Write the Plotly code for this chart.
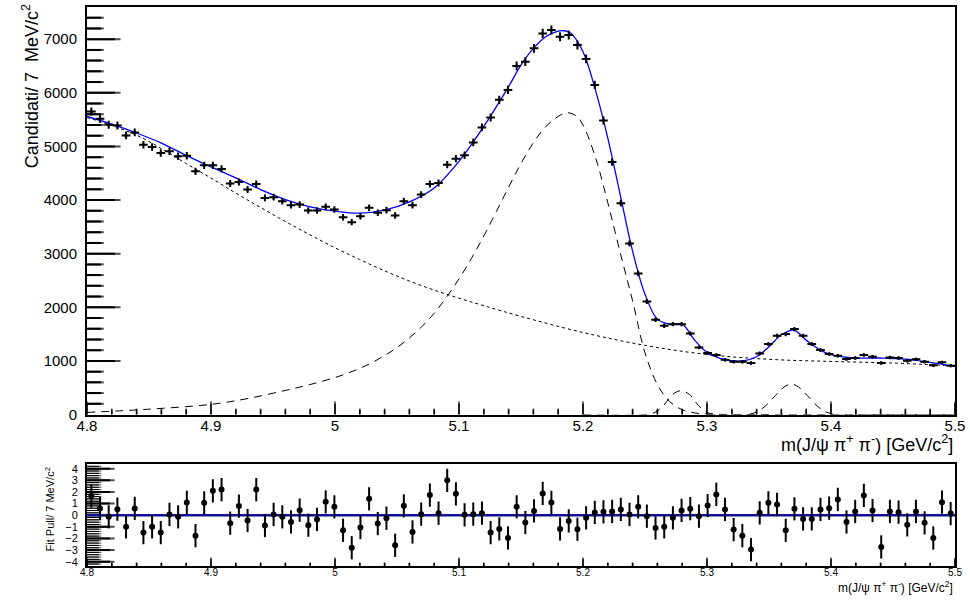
import numpy as np
import plotly.graph_objects as go

# ---------------- data ----------------
bin_width = 0.007
mass_lo, mass_hi = 4.8, 5.5
n_bins = 100
mass = [round(mass_lo + bin_width * (i + 0.5), 4) for i in range(n_bins)]

counts = [5652, 5515, 5404, 5391, 5205, 5261, 5032, 4989, 4877, 4908,
          4815, 4827, 4536, 4648, 4648, 4580, 4307, 4338, 4195, 4301,
          4040, 4053, 3978, 3904, 3916, 3805, 3805, 3873, 3824, 3681,
          3588, 3700, 3855, 3762, 3811, 3712, 3978, 3904, 4102, 4301,
          4319, 4660, 4772, 4834, 5075, 5354, 5540, 5869, 6054, 6501,
          6581, 6829, 7108, 7170, 7046, 7077, 6891, 6631, 6147, 5484,
          4710, 3941, 3191, 2628, 2107, 1766, 1655, 1686, 1686, 1512,
          1252, 1146, 1109, 1023, 985, 985, 961, 1140, 1314, 1469,
          1500, 1593, 1469, 1314, 1202, 1128, 1097, 1035, 1054, 1109,
          1078, 961, 1066, 1054, 1004, 1029, 985, 917, 973, 911]

pulls = [1.64, 0.58, -0.14, 0.52, -1.0, 0.58, -1.5, -1.0, -1.5, 0.06,
         -0.14, 1.09, -1.76, 1.06, 2.1, 2.2, -0.69, 0.78, -0.46, 2.2,
         -0.89, 0.06, -0.14, -0.58, 0.43, -0.86, -0.37, 1.15, 0.72, -1.3,
         -2.8, -1.06, 1.41, -0.72, -0.26, -2.59, 0.81, -1.44, 0.09, 1.73,
         0.17, 3.0, 1.84, 0.03, 0.09, 0.17, -1.5, -1.18, -1.96, 0.72,
         -0.63, 0.37, 1.87, 1.09, -1.18, -0.49, -1.21, -0.23, 0.23, 0.29,
         0.32, 0.49, 0.06, 0.72, -0.09, -1.1, -1.0, -0.23, 0.41, 0.56,
         -0.09, 0.83, 1.78, 0.49, -1.24, -1.76, -2.96, 0.2, 1.06, 0.92,
         -1.3, 0.55, -0.32, -0.32, 0.49, 0.6, 1.35, -0.58, 0.32, 1.7,
         0.4, -2.73, 0.32, 0.26, -0.83, 0.32, -0.66, -1.96, 1.12, 0.14]

fit_m = [4.80, 4.82, 4.84, 4.86, 4.88, 4.90, 4.92, 4.94, 4.96, 4.98,
         5.00, 5.02, 5.04, 5.06, 5.08, 5.10, 5.12, 5.14, 5.15, 5.16,
         5.17, 5.18, 5.185, 5.19, 5.20, 5.21, 5.22, 5.23, 5.24, 5.25,
         5.26, 5.27, 5.28, 5.29, 5.30, 5.31, 5.32, 5.33, 5.34, 5.35,
         5.36, 5.37, 5.38, 5.39, 5.40, 5.42, 5.44, 5.46, 5.48, 5.50]
fit_v = [5559, 5416, 5249, 5063, 4834, 4617, 4412, 4195, 4009, 3873,
         3793, 3755, 3811, 3966, 4226, 4722, 5373, 6116, 6519, 6829,
         7046, 7151, 7157, 7114, 6767, 6054, 5156, 4102, 3049, 2243,
         1779, 1686, 1686, 1388, 1159, 1054, 1004, 1004, 1078, 1264,
         1487, 1574, 1388, 1221, 1115, 1054, 1054, 1035, 973, 899]

# combinatorial background (dotted)
bkg_m = [4.80, 4.82, 4.84, 4.86, 4.88, 4.90, 4.92, 4.94, 4.96, 4.98,
         5.00, 5.02, 5.04, 5.06, 5.08, 5.10, 5.12, 5.15, 5.20, 5.25,
         5.30, 5.35, 5.40, 5.45, 5.50]
bkg_v = [5540, 5390, 5210, 4960, 4680, 4410, 4130, 3860, 3600, 3350,
         3110, 2890, 2680, 2490, 2320, 2170, 2030, 1830, 1530, 1290,
         1120, 1030, 990, 960, 905]

# main reflection peak (dashed)
sig1_m = [4.80, 4.85, 4.90, 4.93, 4.96, 4.98, 5.00, 5.01, 5.02, 5.03,
          5.04, 5.05, 5.06, 5.07, 5.08, 5.09, 5.10, 5.11, 5.12, 5.13,
          5.14, 5.15, 5.16, 5.17, 5.18, 5.187, 5.195, 5.20, 5.21, 5.22,
          5.23, 5.24, 5.25, 5.26, 5.27, 5.28, 5.29, 5.30, 5.32, 5.40, 5.50]
sig1_v = [40, 100, 190, 300, 450, 560, 690, 770, 860, 970,
          1100, 1250, 1430, 1640, 1890, 2190, 2530, 2910, 3330, 3780,
          4240, 4680, 5070, 5370, 5560, 5630, 5560, 5400, 4800, 3950,
          3020, 2120, 1150, 560, 240, 90, 30, 10, 0, 0, 0]

# small peak near 5.28 (dashed)
sig2_m = [5.20, 5.25, 5.258, 5.265, 5.272, 5.279, 5.286, 5.293, 5.30, 5.31, 5.35]
sig2_v = [0, 0, 40, 170, 370, 446, 370, 170, 40, 0, 0]

# small peak near 5.37 (dashed)
sig3_m = [5.30, 5.335, 5.345, 5.355, 5.362, 5.368, 5.374, 5.381, 5.391, 5.401, 5.44, 5.50]
sig3_v = [0, 10, 120, 350, 510, 570, 510, 350, 120, 10, 0, 0]

# ---------------- geometry ----------------
FONT = "Liberation Sans, Arial, Helvetica, sans-serif"
Y_TOP = 7600
P_LO, P_HI = -4.37, 4.37
PLOT_W = 870.0
TOP_H = 409.0
BOT_H = 102.0
x_per_px = (mass_hi - mass_lo) / PLOT_W
y_per_px = Y_TOP / TOP_H
p_per_px = (P_HI - P_LO) / BOT_H

fig = go.Figure()

# ---- ROOT-style inside tick marks ----
def seg(x0, x1, y0, y1, xa, ya, w):
    fig.add_trace(go.Scatter(x=[float(x0), float(x1)], y=[float(y0), float(y1)],
                             mode="lines", hoverinfo="skip",
                             line=dict(color="black", width=w),
                             xaxis=xa, yaxis=ya))

def tick_markers(xs, ys, sizes, symbol, xa, ya, w):
    fig.add_trace(go.Scatter(x=xs, y=ys, mode="markers", hoverinfo="skip",
                             marker=dict(symbol=symbol, size=sizes,
                                         color="black",
                                         line=dict(color="black", width=w)),
                             xaxis=xa, yaxis=ya))

txs, tys, tss, bxs, bys, bss = [], [], [], [], [], []
for k in range(0, 36):
    v = mass_lo + 0.02 * k
    major = k % 5 == 0
    Lt = 11 if major else 5
    Lb = 7 if major else 3
    seg(v, v, 0, Lt * y_per_px, "x", "y", 1.5)
    seg(v, v, P_LO, P_LO + Lb * p_per_px, "x2", "y2", 1.5)
    txs.append(v); tys.append(Lt / 2 * y_per_px); tss.append(Lt)
    bxs.append(v); bys.append(P_LO + Lb / 2 * p_per_px); bss.append(Lb)
tick_markers(txs, tys, tss, "line-ns", "x", "y", 1.5)
tick_markers(bxs, bys, bss, "line-ns", "x2", "y2", 1.5)

yxs, yys, yss = [], [], []
for v in range(200, Y_TOP, 200):
    L = 28 if v % 1000 == 0 else 14
    seg(mass_lo, mass_lo + L * x_per_px, v, v, "x", "y", 2)
    yxs.append(mass_lo + L / 2 * x_per_px); yys.append(v); yss.append(L)
tick_markers(yxs, yys, yss, "line-ew", "x", "y", 2)

pxs, pys, pss, pxn, pyn, psn = [], [], [], [], [], []
for k in range(-21, 22):
    v = k * 0.2
    if k % 5 == 0:
        seg(mass_lo, mass_lo + 23 * x_per_px, v, v, "x2", "y2", 2)
        pxs.append(mass_lo + 11.5 * x_per_px); pys.append(v); pss.append(23)
    else:
        seg(mass_lo, mass_lo + 12 * x_per_px, v, v, "x2", "y2", 1)
        pxn.append(mass_lo + 6 * x_per_px); pyn.append(v); psn.append(12)
tick_markers(pxs, pys, pss, "line-ew", "x2", "y2", 2)
tick_markers(pxn, pyn, psn, "line-ew", "x2", "y2", 1)

# ---- data and fit ----
fig.add_trace(go.Scatter(x=bkg_m, y=bkg_v, mode="lines", line_shape="spline",
                         line=dict(color="black", width=1, dash="dot"),
                         xaxis="x", yaxis="y"))
for mm, vv in [(sig1_m, sig1_v), (sig2_m, sig2_v), (sig3_m, sig3_v)]:
    fig.add_trace(go.Scatter(x=mm, y=vv, mode="lines", line_shape="spline",
                             line=dict(color="black", width=1, dash="8px,6px"),
                             xaxis="x", yaxis="y"))
fig.add_trace(go.Scatter(x=fit_m, y=fit_v, mode="lines", line_shape="spline",
                         line=dict(color="#0000ff", width=1.3),
                         xaxis="x", yaxis="y"))
fig.add_trace(go.Scatter(
    x=mass, y=counts, mode="markers",
    marker=dict(color="black", size=3),
    error_y=dict(type="data", array=[float(np.sqrt(c)) for c in counts],
                 color="black", thickness=2, width=0),
    error_x=dict(type="data", array=[bin_width / 2] * n_bins,
                 color="black", thickness=2, width=0),
    xaxis="x", yaxis="y"))
fig.add_trace(go.Scatter(x=[mass_lo, mass_hi], y=[0, 0], mode="lines",
                         line=dict(color="#10109a", width=2.5),
                         xaxis="x2", yaxis="y2"))
fig.add_trace(go.Scatter(
    x=mass, y=pulls, mode="markers",
    marker=dict(color="black", size=6),
    error_y=dict(type="data", array=[1.0] * n_bins, color="black",
                 thickness=2, width=0),
    xaxis="x2", yaxis="y2"))

H = 561.0
def py(ypx):
    return (566 - ypx) / H

def px(xpx):
    return (xpx - 87) / PLOT_W

axis_common = dict(showline=True, linewidth=2, linecolor="black", mirror=True,
                   showgrid=False, zeroline=False, ticks="inside",
                   tickcolor="rgba(0,0,0,0)", tickmode="linear")

fig.update_layout(
    width=970, height=604,
    margin=dict(l=87, r=13, t=5, b=38),
    paper_bgcolor="white", plot_bgcolor="white",
    showlegend=False,
    font=dict(family=FONT, color="black"),
    xaxis=dict(domain=[0, 1], range=[mass_lo, mass_hi], anchor="y",
               tick0=4.8, dtick=0.1, ticklen=11,
               tickfont=dict(size=15, family=FONT), ticklabelstandoff=-4,
               **axis_common),
    yaxis=dict(domain=[py(414), 1.0], range=[0, Y_TOP], anchor="x",
               tick0=0, dtick=1000, ticklen=28,
               tickfont=dict(size=15, family=FONT), ticklabelstandoff=5,
               **axis_common),
    xaxis2=dict(domain=[0, 1], range=[mass_lo, mass_hi], anchor="y2",
                tick0=4.8, dtick=0.1, ticklen=7,
                tickfont=dict(size=10, family=FONT), ticklabelstandoff=-4,
                **axis_common),
    yaxis2=dict(domain=[0, py(464)], range=[P_LO, P_HI], anchor="x2",
                tick0=-4, dtick=1, ticklen=23,
                tickfont=dict(size=11, family=FONT), ticklabelstandoff=5,
                **axis_common),
)

ann = [
    dict(text="Candidati/ 7\u00a0\u00a0MeV/c<sup>2</sup>", x=px(30), y=py(0),
         xanchor="center", yanchor="top", textangle=-90, font=dict(size=18)),
    dict(text="m(J/\u03c8 \u03c0<sup>+</sup> \u03c0<sup>-</sup>) [GeV/c<sup>2</sup>]",
         x=1.0, y=py(443), xanchor="right", yanchor="middle", font=dict(size=18)),
    dict(text="Fit Pull/ 7 MeV/c<sup>2</sup>", x=px(50), y=py(465),
         xanchor="center", yanchor="top", textangle=-90, font=dict(size=11)),
    dict(text="m(J/\u03c8 \u03c0<sup>+</sup> \u03c0<sup>-</sup>) [GeV/c<sup>2</sup>]",
         x=1.0, y=py(587), xanchor="right", yanchor="middle", font=dict(size=12)),
]
for a in ann:
    a.update(xref="paper", yref="paper", showarrow=False)
    a["font"].update(family=FONT, color="black")
fig.update_layout(annotations=ann)

fig.write_html("out.html")
